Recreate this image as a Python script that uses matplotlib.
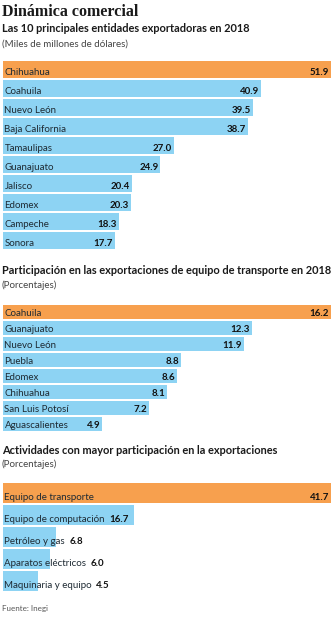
import numpy as np
import matplotlib.pyplot as plt

# --- Data ---
states_export = ['Chihuahua', 'Coahuila', 'Nuevo León', 'Baja California', 'Tamaulipas',
                 'Guanajuato', 'Jalisco', 'Edomex', 'Campeche', 'Sonora']
export_values = [51.9, 40.9, 39.5, 38.7, 27.0, 24.9, 20.4, 20.3, 18.3, 17.7]

states_transport = ['Coahuila', 'Guanajuato', 'Nuevo León', 'Puebla', 'Edomex',
                    'Chihuahua', 'San Luis Potosí', 'Aguascalientes']
transport_values = [16.2, 12.3, 11.9, 8.8, 8.6, 8.1, 7.2, 4.9]

activities = ['Equipo de transporte', 'Equipo de computación', 'Petróleo y gas',
              'Aparatos eléctricos', 'Maquinaria y equipo']
activity_values = [41.7, 16.7, 6.8, 6.0, 4.5]

# --- Style ---
W, H = 334, 620
ORANGE = '#F7A04E'
BLUE = '#8DD3F3'
TEXT = '#1E2A33'
GRAY = '#444444'
FONT = 'Lato'
LABEL_SIZE = 7.0

fig = plt.figure(figsize=(W / 100, H / 100), dpi=100)
fig.patch.set_facecolor('white')


def fy(px):
    return 1 - px / H


def add_text(x, y, s, **kw):
    fig.text(x / W, fy(y), s, va='center', ha='left', **kw)


def bar_panel(top, bottom, labels, values, bar_h, value_after_label=False):
    ax = fig.add_axes([3 / W, fy(bottom), 328 / W, (bottom - top) / H])
    n = len(values)
    y = np.arange(n)
    colors = [ORANGE] + [BLUE] * (n - 1)
    ax.barh(y, values, height=bar_h, color=colors, linewidth=0)
    ax.set_xlim(0, max(values))
    ax.set_ylim(n - 0.5, -0.5)
    ax.axis('off')
    for i, (lab, v) in enumerate(zip(labels, values)):
        t = ax.annotate(lab, xy=(0, i + bar_h / 2), xytext=(1.5, 3),
                        textcoords='offset pixels', va='baseline', ha='left',
                        fontsize=LABEL_SIZE, family=FONT, color=TEXT)
        if value_after_label and i > 0:
            ax.annotate(f'{v:.1f}', xy=(1, 0), xycoords=t, xytext=(4, 0),
                        textcoords='offset pixels', va='bottom', ha='left',
                        fontsize=LABEL_SIZE, family=FONT, fontweight='bold', color='#111111')
        else:
            ax.annotate(f'{v:.1f}', xy=(v, i + bar_h / 2), xytext=(-2, 3),
                        textcoords='offset pixels', va='baseline', ha='right',
                        fontsize=LABEL_SIZE, family=FONT, fontweight='bold', color='#111111')
    return ax


# Header
add_text(2, 12, 'Dinámica comercial', fontsize=11.5, family='Liberation Serif',
         fontweight='bold', color='#1a1a1a')
add_text(2, 29, 'Las 10 principales entidades exportadoras en 2018', fontsize=7.9,
         family=FONT, fontweight='bold', color='#1a1a1a')
add_text(2, 44, '(Miles de millones de dólares)', fontsize=7.0, family=FONT, color=GRAY)

bar_panel(60, 250, states_export, export_values, 0.94)

add_text(2, 270, 'Participación en las exportaciones de equipo de transporte en 2018',
         fontsize=7.9, family=FONT, fontweight='bold', color='#1a1a1a')
add_text(2, 285, '(Porcentajes)', fontsize=7.0, family=FONT, color=GRAY)

bar_panel(304, 432, states_transport, transport_values, 0.93)

add_text(2, 450, 'Actividades con mayor participación en la exportaciones',
         fontsize=7.9, family=FONT, fontweight='bold', color='#1a1a1a')
add_text(2, 464, '(Porcentajes)', fontsize=7.0, family=FONT, color=GRAY)

bar_panel(482, 592, activities, activity_values, 0.95, value_after_label=True)

add_text(2, 608, 'Fuente: Inegi', fontsize=5.8, family=FONT, color='#555555')

fig.savefig('out.png', dpi=100, facecolor='white')
